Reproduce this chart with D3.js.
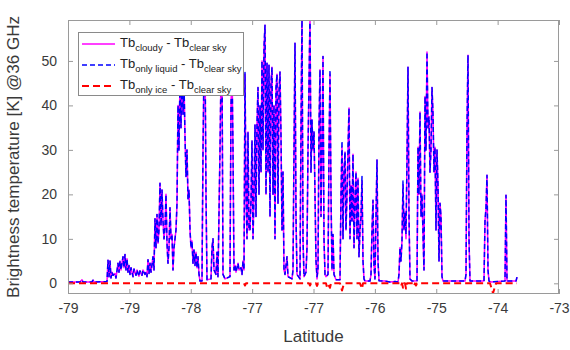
<!DOCTYPE html>
<html><head><meta charset="utf-8">
<script src="https://cdn.jsdelivr.net/npm/d3@7"></script>
<style>
html,body{margin:0;padding:0;background:#fff;}
svg{display:block;font-family:"Liberation Sans",Arial,Helvetica,sans-serif;}
</style></head><body>
<svg id="chart" width="570" height="350"></svg>
<script>
// Latitude labels shown under the evenly spaced along-track ticks
const xTickLabels = ["-79","-79","-78","-77","-77","-76","-75","-74","-73"];
const yTicks = [0, 10, 20, 30, 40, 50];
const sampleCount = 491;   // along-track samples spanned by the x axis
const yRange = [-2.4, 59.2];

// [sample index, Tb difference in K]
const cloudySamples = [
[0,0.3],[12,0.3],[14,0.8],[15,0.3],[24,0.3],[25,0.7],[26,0.3],[39,0.4],[40,5.2],[41,1.5],
[42,5.0],[43,1.2],[44,2.5],[45,1.8],[47,2.2],[48,1.2],[50,4.5],[51,2.5],[52,5.0],[53,3.0],
[55,6.0],[56,3.5],[57,6.5],[58,3.0],[59,5.5],[60,2.5],[61,4.0],[62,2.0],[63,3.5],[65,1.5],
[66,3.2],[68,1.8],[69,3.0],[71,1.6],[72,2.8],[74,1.8],[75,3.0],[77,2.0],[78,2.5],[79,1.5],
[80,5.3],[81,2.2],[82,4.5],[83,2.5],[85,6.0],[86,3.0],[87,14.5],[88,8.0],[89,15.5],[90,9.0],
[91,12.0],[92,22.5],[93,13.0],[94,21.0],[95,14.0],[96,10.0],[97,12.5],[98,20.0],[99,9.0],[100,4.5],
[101,8.0],[102,17.0],[103,10.0],[104,11.0],[105,3.0],[106,8.0],[108,12.0],[109,18.0],[110,40],[111,30],
[112,46],[113,35],[114,50],[115,38],[116,45],[117,33],[118,24],[119,30],[120,19],[121,21],
[122,12],[123,8],[124,9.5],[125,4.5],[126,7.5],[127,4],[128,7],[129,3.5],[130,6],[131,2],
[132,0.5],[134,0.5],[135,30],[136,48],[137,52],[138,20],[139,0.8],[143,1],[144,8],[145,10],
[146,3],[148,2],[149,7],[150,1.5],[152,30],[153,47],[154,50],[155,2],[157,1],[162,1.5],
[163,40],[164,49],[165,30],[166,3],[167,4],[168,2.5],[170,4.5],[171,3],[173,3.5],[174,2],
[175,5],[176,3],[177,47],[178,20],[179,10],[180,34],[181,12],[182,12],[183,18.7],[184,32],
[185,10],[186,20],[187,35.6],[188,15],[189,36],[190,44],[191,20],[192,40],[193,25],[194,50],
[195,30],[196,53],[197,58],[198,20],[199,49.5],[200,25],[201,49],[202,15],[203,45],[204,48.6],
[205,20],[206,40],[207,10],[208,44],[209,47],[210,18],[211,43],[212,47.5],[213,33],[214,12],
[215,25],[216,3],[217,2],[218,4],[219,6],[220,1.5],[224,1],[225,3],[226,30],[227,54],
[228,15],[229,2],[232,1],[233,35],[234,60],[235,10],[236,1.5],[238,2.5],[239,8],[240,30],
[241,45],[242,60],[243,25],[244,36.7],[245,30],[246,34],[247,20],[248,5],[249,1],[250,3],
[251,35],[252,48],[253,15],[254,30],[255,51],[256,10],[257,2],[258,1.5],[260,2],[261,30],
[262,47],[263,20],[264,3],[265,11],[266,2],[268,0.8],[272,0.8],[273,20],[274,30.6],[275,10],
[276,25],[277,29.5],[278,12],[279,20],[280,30],[281,39.4],[282,10],[283,22],[284,14],[285,29],
[286,8],[287,18],[288,25],[289,10],[290,23.6],[291,6],[292,12],[293,15],[294,23],[295,5],
[296,1],[297,0.5],[302,0.5],[303,2],[304,12],[305,18.7],[306,4],[307,1],[308,15],[309,27.7],
[310,5],[311,0.6],[317,0.5],[322,0.3],[327,0.4],[330,0.3],[331,2],[332,8],[333,5],[334,9.7],
[335,22],[336,12],[337,16],[338,10],[339,28],[340,48.6],[341,15],[342,1],[344,0.5],[349,0.6],
[350,30.6],[351,20],[352,38.5],[353,15],[354,20],[355,11],[356,3],[357,42],[358,30],[359,52],
[360,35],[361,37.4],[362,25],[363,30],[364,44],[365,38],[366,25],[367,30.6],[368,12],[369,30],
[370,22],[371,5],[372,18],[373,15],[374,1.5],[375,0.5],[397,0.5],[398,2],[399,35],[400,51.3],
[401,10],[402,0.5],[416,0.5],[417,14],[418,17],[419,24.3],[420,3],[421,0.5],[423,0.3],[437,0.5],
[438,19.8],[439,0.5],[448,0.5],[449,1.4]
];

const liquidSamples = [
[0,0.3],[12,0.3],[14,0.8],[15,0.3],[24,0.3],[25,0.7],[26,0.3],[39,0.4],[40,5.2],[41,1.5],
[42,5.0],[43,1.2],[44,2.5],[45,1.8],[47,2.2],[48,1.2],[50,4.5],[51,2.5],[52,5.0],[53,3.0],
[55,6.0],[56,3.5],[57,6.5],[58,3.0],[59,5.5],[60,2.5],[61,4.0],[62,2.0],[63,3.5],[65,1.5],
[66,3.2],[68,1.8],[69,3.0],[71,1.6],[72,2.8],[74,1.8],[75,3.0],[77,2.0],[78,2.5],[79,1.5],
[80,5.3],[81,2.2],[82,4.5],[83,2.5],[85,6.0],[86,3.0],[87,14.5],[88,8.0],[89,15.5],[90,9.0],
[91,12.0],[92,22.5],[93,13.0],[94,21.0],[95,14.0],[96,10.0],[97,12.5],[98,20.0],[99,9.0],[100,4.5],
[101,8.0],[102,17.0],[103,10.0],[104,11.0],[105,3.0],[106,8.0],[108,12.0],[109,18.0],[110,40],[111,30],
[112,46],[113,35],[114,50],[115,38],[116,45],[117,33],[118,24],[119,30],[120,19],[121,21],
[122,12],[123,8],[124,9.5],[125,4.5],[126,7.5],[127,4],[128,7],[129,3.5],[130,6],[131,2],
[132,0.5],[134,0.5],[135,30],[136,48],[137,52],[138,20],[139,0.8],[143,1],[144,8],[145,10],
[146,3],[148,2],[149,7],[150,1.5],[152,30],[153,47],[154,50],[155,2],[157,1],[162,1.5],
[163,40],[164,49],[165,30],[166,3],[167,4],[168,2.5],[170,4.5],[171,3],[173,3.5],[174,2],
[175,5],[176,3],[177,47.4],[178,20],[179,10],[180,34],[181,12],[182,12],[183,18.7],[184,32],
[185,10],[186,20],[187,35.6],[188,15],[189,36],[190,44],[191,20],[192,40],[193,25],[194,50],
[195,30],[196,53],[197,58],[198,20],[199,49.5],[200,25],[201,49],[202,15],[203,45],[204,48.6],
[205,20],[206,40],[207,10],[208,44],[209,47],[210,18],[211,43],[212,47.5],[213,33],[214,12],
[215,25],[216,3],[217,2],[218,4],[219,6],[220,1.5],[224,1],[225,3],[226,30],[227,54],
[228,15],[229,2],[232,1],[233,35],[234,60],[235,10],[236,1.5],[238,2.5],[239,8],[240,30],
[241,45],[242,60.5],[243,25],[244,36.7],[245,30],[246,34],[247,20],[248,5],[249,1.5],[250,3],
[251,35],[252,48],[253,15],[254,30],[255,51],[256,10],[257,2],[258,1.5],[260,2],[261,30],
[262,48],[263,20],[264,3],[265,11],[266,2],[268,0.8],[272,0.8],[273,20],[274,32],[275,10],
[276,25],[277,29.5],[278,12],[279,20],[280,30],[281,39.4],[282,10],[283,22],[284,14],[285,29],
[286,8],[287,18],[288,25],[289,10],[290,23.6],[291,6],[292,12],[293,15],[294,24],[295,5],
[296,1],[297,0.5],[302,0.5],[303,2],[304,12],[305,18.7],[306,4],[307,1],[308,15],[309,27.7],
[310,5],[311,0.6],[317,0.5],[322,0.3],[327,0.4],[330,0.3],[331,2],[332,8],[333,5],[334,9.7],
[335,23],[336,12],[337,16],[338,11],[339,28],[340,48.6],[341,15],[342,1],[344,0.5],[349,0.6],
[350,30.6],[351,20],[352,38.5],[353,15],[354,20],[355,11],[356,3],[357,42],[358,30],[359,52],
[360,35],[361,37.4],[362,25],[363,30],[364,44],[365,38],[366,25],[367,30.6],[368,12],[369,30],
[370,22],[371,5],[372,18],[373,15],[374,1.5],[375,0.5],[397,0.5],[398,2],[399,35],[400,51.3],
[401,10],[402,0.5],[416,0.5],[417,14],[418,17],[419,24.3],[420,3],[421,0.5],[423,0.3],[437,0.5],
[438,19.8],[439,0.5],[448,0.5],[449,1.4]
];

const iceSamples = [
[0,0],[176,0],[177,-0.5],[178,0],[241,0],[242,-0.5],[243,0],[248,0],[249,-0.6],[250,0],
[258,0],[259,-0.9],[260,-0.3],[261,-0.6],[262,-1.0],[263,0],[272,0],[274,-1.6],[275,-0.8],[276,0],
[292,0],[294,-1.2],[295,0],[332,0],[333,-0.6],[334,0],[335,-1.0],[336,0],[337,0],[338,-1.2],
[339,0],[345,0],[346,-0.6],[347,0],[348,-0.5],[349,0],[422,0],[425,-2.2],[428,0],[449,0]
];

const series = [
  {name: "cloudy", data: cloudySamples, color: "#ff00ff", width: 1.5, dash: null},
  {name: "only liquid", data: liquidSamples, color: "#0000ff", width: 1.5, dash: "5,3"},
  {name: "only ice", data: iceSamples, color: "#ff0000", width: 2, dash: "7,4"}
];

const svg = d3.select("#chart");
const plot = {left: 68, top: 20, right: 559, bottom: 294};

const x = d3.scaleLinear().domain([0, sampleCount]).range([plot.left, plot.right]);
const y = d3.scaleLinear().domain(yRange).range([plot.bottom, plot.top]);
const xTickVals = xTickLabels.map((_, i) => i * sampleCount / (xTickLabels.length - 1));

svg.append("defs").append("clipPath").attr("id", "plotClip")
  .append("rect")
  .attr("x", plot.left).attr("y", plot.top)
  .attr("width", plot.right - plot.left).attr("height", plot.bottom - plot.top);

const line = d3.line().x(d => x(d[0])).y(d => y(d[1]));

const traces = svg.append("g").attr("clip-path", "url(#plotClip)");
series.forEach(s => {
  traces.append("path")
    .datum(s.data)
    .attr("d", line)
    .attr("fill", "none")
    .attr("stroke", s.color)
    .attr("stroke-width", s.width)
    .attr("stroke-dasharray", s.dash)
    .attr("stroke-linejoin", "round");
});

// Axes: ticks pointing inward on all four sides
const axisColor = "#9a9a9a";
const labelColor = "#3a3a3a";
function styleAxis(g) {
  g.select(".domain").remove();
  g.selectAll(".tick line").attr("stroke", axisColor);
  g.selectAll(".tick text").attr("fill", labelColor)
    .style("font-size", "14px").style("font-family", '"Liberation Sans", Arial, sans-serif');
}
svg.append("g").attr("transform", `translate(0,${plot.bottom})`)
  .call(d3.axisBottom(x).tickValues(xTickVals).tickFormat((d, i) => xTickLabels[i])
    .tickSizeInner(-5).tickSizeOuter(0).tickPadding(9))
  .call(styleAxis);
svg.append("g").attr("transform", `translate(0,${plot.top})`)
  .call(d3.axisTop(x).tickValues(xTickVals).tickFormat("").tickSizeInner(-5).tickSizeOuter(0))
  .call(styleAxis);
svg.append("g").attr("transform", `translate(${plot.left},0)`)
  .call(d3.axisLeft(y).tickValues(yTicks).tickSizeInner(-5).tickSizeOuter(0).tickPadding(11))
  .call(styleAxis);
svg.append("g").attr("transform", `translate(${plot.right},0)`)
  .call(d3.axisRight(y).tickValues(yTicks).tickFormat("").tickSizeInner(-5).tickSizeOuter(0))
  .call(styleAxis);

svg.append("rect")
  .attr("x", plot.left + 0.5).attr("y", plot.top + 0.5)
  .attr("width", plot.right - plot.left - 1).attr("height", plot.bottom - plot.top - 1)
  .attr("fill", "none").attr("stroke", axisColor);

// Axis titles
svg.append("text")
  .attr("x", (plot.left + plot.right) / 2).attr("y", 342)
  .attr("text-anchor", "middle").attr("fill", labelColor)
  .style("font-size", "17px").text("Latitude");
svg.append("text")
  .attr("transform", `translate(19,${(plot.top + plot.bottom) / 2}) rotate(-90)`)
  .attr("text-anchor", "middle").attr("fill", labelColor)
  .style("font-size", "17px").text("Brightness temperature [K] @36 GHz");

// Legend
const legend = svg.append("g");
legend.append("rect")
  .attr("x", 78.5).attr("y", 32.5).attr("width", 165).attr("height", 63)
  .attr("fill", "#fff").attr("stroke", "#8a8a8a");
const rowY = [44, 65, 86];
series.forEach((s, i) => {
  legend.append("line")
    .attr("x1", 82).attr("x2", 115).attr("y1", rowY[i]).attr("y2", rowY[i])
    .attr("stroke", s.color).attr("stroke-width", s.width)
    .attr("stroke-dasharray", s.dash);
  const t = legend.append("text")
    .attr("x", 120).attr("y", rowY[i] + 3)
    .attr("fill", "#222").style("font-size", "13px").style("white-space", "pre");
  t.append("tspan").text("Tb");
  t.append("tspan").attr("dy", 4).style("font-size", "9.5px").text(s.name);
  t.append("tspan").attr("dy", -4).text(" - Tb");
  t.append("tspan").attr("dy", 4).style("font-size", "9.5px").text("clear sky");
});
</script>
</body></html>
